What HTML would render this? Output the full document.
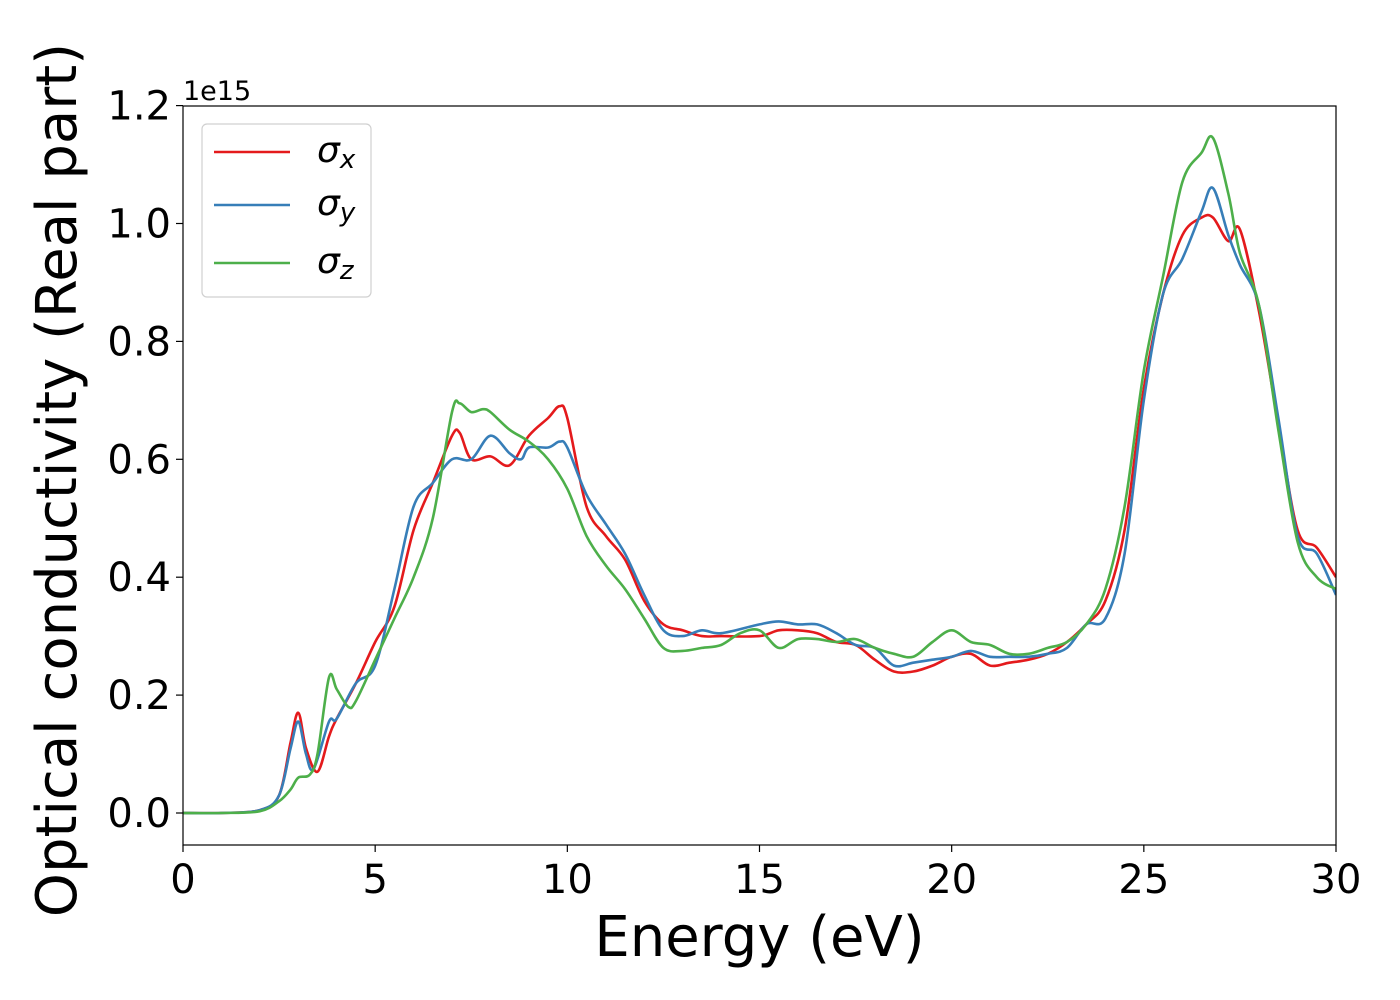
<!DOCTYPE html>
<html><head><meta charset="utf-8">
<style>
html,body{margin:0;padding:0;background:#fff;}
svg{display:block;font-family:"DejaVu Sans","Liberation Sans",sans-serif;}
</style></head>
<body>
<svg id="chart" width="1400" height="1000" viewBox="0 0 1400 1000">
<rect x="0" y="0" width="1400" height="1000" fill="#fff"/>
<g id="plot"></g>
</svg>
<script>
const xTicks=[0,5,10,15,20,25,30];
const yTicks=[0.0,0.2,0.4,0.6,0.8,1.0,1.2];
const yTickLabels=["0.0","0.2","0.4","0.6","0.8","1.0","1.2"];
const xX=[0,1,2,2.5,2.8,3.0,3.2,3.5,3.8,4.0,4.5,5.0,5.5,6.0,6.5,7.0,7.2,7.5,8.0,8.5,9.0,9.5,9.8,10.0,10.5,11.0,11.5,12.0,12.5,13,13.5,14,15,15.5,16,16.5,17,17.5,18,18.5,19,19.5,20,20.5,21,21.5,22,22.5,23,23.5,24,24.5,25,25.5,26,26.5,26.8,27.2,27.5,28,28.5,29,29.5,30];
const xY=[0,0,0.005,0.03,0.12,0.17,0.11,0.07,0.13,0.16,0.22,0.29,0.35,0.48,0.56,0.64,0.645,0.60,0.605,0.59,0.64,0.67,0.69,0.67,0.52,0.47,0.43,0.36,0.32,0.31,0.30,0.30,0.30,0.31,0.31,0.305,0.29,0.285,0.26,0.24,0.24,0.25,0.265,0.27,0.25,0.255,0.26,0.27,0.29,0.32,0.36,0.48,0.72,0.88,0.98,1.01,1.01,0.97,0.99,0.85,0.66,0.48,0.45,0.40];
const yX=[0,1,2,2.5,2.8,3.0,3.2,3.4,3.8,4.0,4.5,5.0,5.5,6.0,6.5,7.0,7.5,8.0,8.5,8.8,9.0,9.5,9.8,10.0,10.5,11.0,11.5,12.0,12.5,13,13.5,14,15,15.5,16,16.5,17,17.5,18,18.5,19,19.5,20,20.5,21,21.5,22,22.5,23,23.5,24,24.5,25,25.5,26,26.5,26.8,27.2,27.5,28,28.5,29,29.5,30];
const yY=[0,0,0.005,0.03,0.11,0.155,0.10,0.075,0.155,0.16,0.22,0.25,0.38,0.52,0.56,0.60,0.60,0.64,0.61,0.60,0.62,0.62,0.63,0.62,0.54,0.49,0.44,0.37,0.31,0.30,0.31,0.305,0.32,0.325,0.32,0.32,0.305,0.285,0.28,0.25,0.255,0.26,0.265,0.275,0.265,0.265,0.265,0.27,0.28,0.32,0.33,0.44,0.70,0.88,0.94,1.02,1.06,0.98,0.93,0.86,0.67,0.47,0.44,0.37];
const zX=[0,1,2,2.5,2.8,3.0,3.3,3.5,3.8,4.0,4.3,4.5,5.0,5.5,6.0,6.5,7.0,7.2,7.5,7.8,8.0,8.5,9.0,9.5,10.0,10.5,11.0,11.5,12.0,12.5,13,13.5,14,14.5,15,15.5,16,16.5,17,17.5,18,18.5,19,19.5,20,20.5,21,21.5,22,22.5,23,23.5,24,24.5,25,25.5,26,26.5,26.8,27.2,27.5,28,28.5,29,29.5,30];
const zY=[0,0,0.003,0.02,0.04,0.06,0.065,0.10,0.23,0.21,0.18,0.19,0.26,0.33,0.40,0.50,0.68,0.695,0.68,0.685,0.68,0.65,0.63,0.60,0.55,0.47,0.42,0.38,0.33,0.28,0.275,0.28,0.285,0.305,0.31,0.28,0.295,0.295,0.29,0.295,0.28,0.27,0.265,0.29,0.31,0.29,0.285,0.27,0.27,0.28,0.29,0.32,0.38,0.52,0.75,0.91,1.07,1.12,1.145,1.05,0.95,0.86,0.65,0.46,0.40,0.38];
const seriesNames=["sigma-x","sigma-y","sigma-z"];
const seriesColors=["#e41a1c","#377eb8","#4daf4a"];

const L=183,R=1336,T=106,B=845;
const XMIN=0,XMAX=30,Y0PX=813,PX_PER=117.9/0.2;
function sx(v){return L+(v-XMIN)/(XMAX-XMIN)*(R-L);}
function sy(v){return Y0PX-v*PX_PER;}
const NS="http://www.w3.org/2000/svg";
const plot=document.getElementById('plot');
function mk(tag,attrs,parent){const e=document.createElementNS(NS,tag);for(const k in attrs)e.setAttribute(k,attrs[k]);(parent||plot).appendChild(e);return e;}

const clip=mk('clipPath',{id:'clp'});
mk('rect',{x:L,y:T,width:R-L,height:B-T},clip);

function path(xs,ys){
  const p=xs.map((x,i)=>[sx(x),sy(ys[i])]);
  let d='M'+p[0][0].toFixed(1)+','+p[0][1].toFixed(1);
  for(let i=0;i<p.length-1;i++){
    const p0=p[i-1]||p[i],p1=p[i],p2=p[i+1],p3=p[i+2]||p2;
    const c1=[p1[0]+(p2[0]-p0[0])/6,p1[1]+(p2[1]-p0[1])/6];
    const c2=[p2[0]-(p3[0]-p1[0])/6,p2[1]-(p3[1]-p1[1])/6];
    d+='C'+c1[0].toFixed(1)+','+c1[1].toFixed(1)+' '+c2[0].toFixed(1)+','+c2[1].toFixed(1)+' '+p2[0].toFixed(1)+','+p2[1].toFixed(1);
  }
  return d;
}
const allX=[xX,yX,zX],allY=[xY,yY,zY];
const g=mk('g',{'clip-path':'url(#clp)'});


for(let s=0;s<3;s++){
  const el=mk('path',{d:path(allX[s],allY[s]),fill:'none',stroke:seriesColors[s],'stroke-width':2.6,'stroke-linejoin':'round'},g);
  
  
}
const frame=mk('rect',{x:L,y:T,width:R-L,height:B-T,fill:'none',stroke:'#000','stroke-width':1.2});



xTicks.forEach(v=>{
  const t=mk('line',{x1:sx(v),x2:sx(v),y1:B,y2:B+7,stroke:'#000','stroke-width':1.2});
  
  
  const tx=mk('text',{x:sx(v),y:B+48,'text-anchor':'middle','font-size':40,fill:'#000'});
  tx.textContent=String(v);
  
  
});
yTicks.forEach((v,i)=>{
  const t=mk('line',{x1:L-7,x2:L,y1:sy(v),y2:sy(v),stroke:'#000','stroke-width':1.2});
  
  
  const tx=mk('text',{x:L-12,y:sy(v)+14,'text-anchor':'end','font-size':40,fill:'#000'});
  tx.textContent=yTickLabels[i];
  
  
});
const off=mk('text',{x:183,y:100,'font-size':27,fill:'#000'});
off.textContent='1e15';


const xt=mk('text',{x:(L+R)/2,y:956,'text-anchor':'middle','font-size':56,fill:'#000'});
xt.textContent='Energy (eV)';


const yt=mk('text',{x:0,y:0,'text-anchor':'middle','font-size':56,fill:'#000',transform:'translate(76,480) rotate(-90)'});
yt.textContent='Optical conductivity (Real part)';



const lg=mk('g',{});


mk('rect',{x:202,y:124,width:169,height:173,rx:5,fill:'#fff','fill-opacity':0.8,stroke:'#d0d0d0','stroke-width':1.2},lg);
const ly=[152,205,263],subs=['x','y','z'];
for(let s=0;s<3;s++){
  const ln=mk('line',{x1:214,x2:290,y1:ly[s],y2:ly[s],stroke:seriesColors[s],'stroke-width':2.6},lg);
  
  
  const tx=mk('text',{x:317,y:ly[s]+10,'font-size':36,'font-style':'italic',fill:'#000'},lg);
  
  
  tx.appendChild(document.createTextNode('σ'));
  const ts=document.createElementNS(NS,'tspan');
  ts.setAttribute('font-size','26');ts.setAttribute('dy','6');
  ts.textContent=subs[s];
  tx.appendChild(ts);
}
</script>
</body></html>
